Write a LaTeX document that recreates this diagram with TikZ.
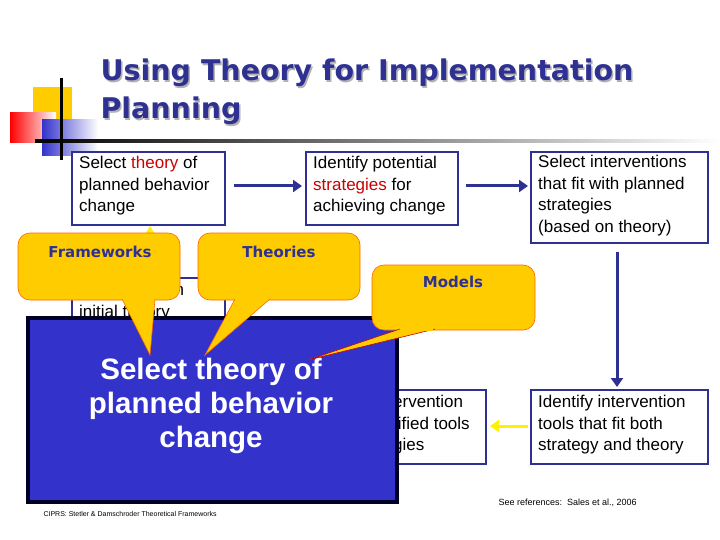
\documentclass[tikz,border=0pt]{standalone}
\usepackage{fontspec}
\setmainfont{Liberation Sans}
\newfontfamily\titlefont{DejaVu Sans}
\usetikzlibrary{arrows.meta}
\definecolor{navy}{HTML}{2E3192}
\definecolor{bigblue}{HTML}{3333CC}
\definecolor{gold}{HTML}{FFCC00}
\definecolor{rd}{HTML}{CC0000}
\tikzset{
  stepbox/.style={draw=navy, line width=1.2pt, fill=white},
  steptext/.style={anchor=north west, align=left, font=\fontsize{17}{21.5}\selectfont, inner sep=0pt},
  flow/.style={navy, line width=3pt, -{Triangle[length=9pt,width=12pt]}},
  bubble/.style={fill=gold, draw=orange!80!red, line width=0.6pt},
  bubtext/.style={text=navy, font=\titlefont\bfseries\fontsize{15}{18}\selectfont},
  ttl/.style={anchor=west, font=\titlefont\bfseries\fontsize{28.5}{32}\selectfont}
}
\begin{document}
\begin{tikzpicture}[x=1pt,y=-1pt]
\fill[white] (0,0) rectangle (720,540);
\useasboundingbox (0,0) rectangle (720,540);
% logo
\fill[gold] (33,87) rectangle (72,119);
\shade[left color=red, right color=white] (10,113) rectangle (56,143);
\shade[left color=bigblue, right color=white] (42,120) rectangle (98,156);
\shade[left color=black, right color=white] (35,140) rectangle (720,142.5);
\fill[black] (60,78) rectangle (62.5,160);
% title
\node[ttl, text=gray!60] at (98.5,74.5) {Using Theory for Implementation};
\node[ttl, text=gray!60] at (98.5,112.5) {Planning};
\node[ttl, text=navy] (t1) at (97,73) {Using Theory for Implementation};
\node[ttl, text=navy] (t2) at (97,111) {Planning};
% boxes
\draw[stepbox] (72,152) rectangle (225,225);
\node[steptext] (b1) at (79,156) {Select \textcolor{rd}{theory} of\\planned behavior\\change};
\draw[stepbox] (306,152) rectangle (458,225);
\node[steptext] (b2) at (313,156) {Identify potential\\\textcolor{rd}{strategies} for\\achieving change};
\draw[stepbox] (531,152) rectangle (708,243);
\node[steptext] (b3) at (538,155) {Select interventions\\that fit with planned\\strategies\\(based on theory)};
\draw[stepbox] (531,390) rectangle (708,464);
\node[steptext] (b4) at (538,395) {Identify intervention\\tools that fit both\\strategy and theory};
\draw[stepbox] (330,390) rectangle (486,464);
\node[steptext] (b5) at (393,395) {ervention\\tified tools\\gies};
\draw[stepbox] (72,278) rectangle (225,340);
\node[steptext] (b6) at (79,283) {Compare with\\initial theory};
\coordinate (a1s) at (234,186); \coordinate (a1e) at (302,186);
\draw[flow] (a1s) -- (a1e);
\coordinate (a2s) at (466,186); \coordinate (a2e) at (528,186);
\draw[flow] (a2s) -- (a2e);
\coordinate (a3s) at (617,252); \coordinate (a3e) at (617,387);
\draw[flow] (a3s) -- (a3e);
\coordinate (a4s) at (528,426); \coordinate (a4e) at (490,426);
\draw[yellow, line width=3pt, -{Triangle[length=9pt,width=12pt]}] (a4s) -- (a4e);
% big blue box
\draw[fill=bigblue, draw=black!85!blue, line width=3.5pt] (28,318) rectangle (397,502);
\node[text=white, align=center, font=\bfseries\fontsize{29.5}{34}\selectfont] (big) at (211,406) {Select theory of\\planned behavior\\change};
% callouts
\fill[yellow] (144,236) -- (150,226) -- (156,236) -- cycle;
\draw[bubble, rounded corners=12pt] (18,233) rectangle (180,300);
\draw[bubble] (122,299) -- (150,355) -- (155,299);
\fill[gold] (123.5,297) rectangle (153.5,301);
\node[bubtext] (fw) at (100,252) {Frameworks};
\draw[bubble, rounded corners=12pt] (198,233) rectangle (360,300);
\draw[bubble] (235,299) -- (205,355) -- (270,299);
\fill[gold] (236,297) rectangle (268,301);
\node[bubtext] (th) at (279,252) {Theories};
\draw[bubble, rounded corners=12pt] (372,265) rectangle (535,330);
\draw[bubble, draw=rd] (400,329) -- (308,360) -- (435,329);
\fill[gold] (402,327) rectangle (433,331);
\node[bubtext] (md) at (453,282) {Models};
% footers
\node[anchor=west, font=\fontsize{7}{8}\selectfont] (f1) at (40,514) {CIPRS: Stetler \& Damschroder Theoretical Frameworks};
\node[anchor=west, font=\fontsize{9}{10}\selectfont] (f2) at (495,503) {See references:\ \ Sales et al., 2006};
\end{tikzpicture}
\end{document}
